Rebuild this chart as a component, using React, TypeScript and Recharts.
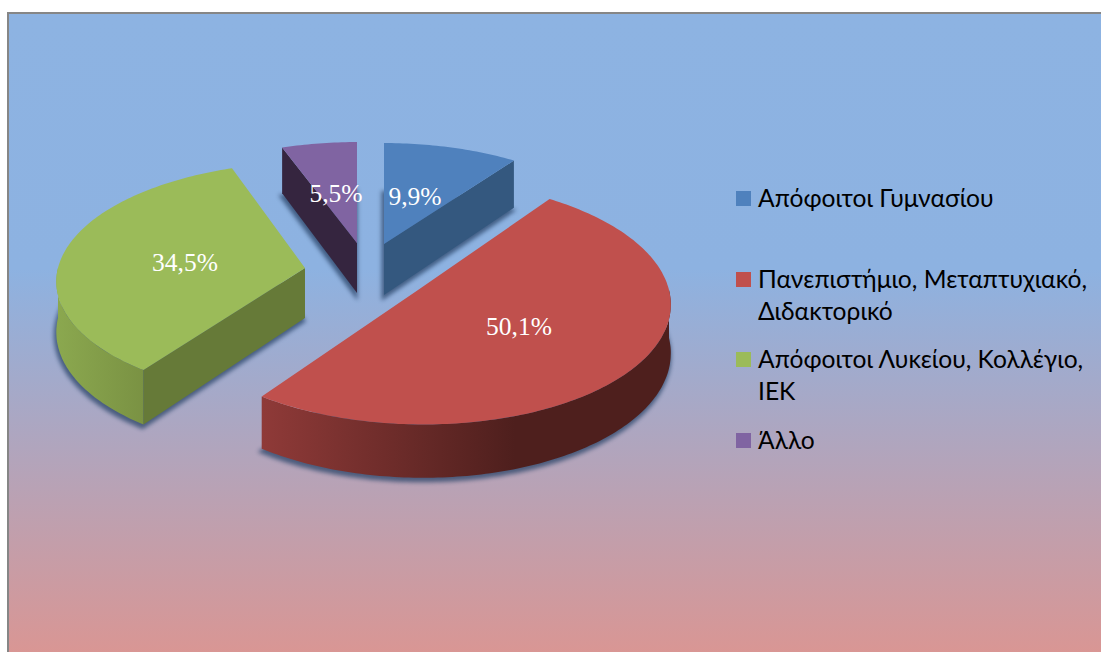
import React from "react";
import { PieChart, Pie, Legend } from "recharts";

const categories = [
  "Απόφοιτοι Γυμνασίου",
  "Πανεπιστήμιο, Μεταπτυχιακό, Διδακτορικό",
  "Απόφοιτοι Λυκείου, Κολλέγιο, ΙΕΚ",
  "Άλλο",
];
const shares = [9.9, 50.1, 34.5, 5.5];

const faceColors = ["#4F81BD", "#C0504D", "#9BBB59", "#8064A2"];
const cutColors = ["#34587F", "#4E1F1D", "#667A38", "#35253F"];
const wallFrom = ["#34587F", "#8F3A38", "#8BA84F", "#35253F"];
const wallTo = ["#34587F", "#4E1F1D", "#7A9243", "#35253F"];
const wallStop = ["100%", "62%", "100%", "100%"];

const PIE_CX = 400;
const PIE_CY = 270;
const PERSPECTIVE = 0.1;
// explosion offset from the pie centre, ellipse radii, skew and extrusion depth of every slice
const sliceDx = [-16, 18, -95, -43];
const sliceDy = [-26, 20, -2, -27];
const sliceRx = [241, 251, 247, 242];
const sliceRy = [111, 121, 116, 111];
const sliceSkew = [0, 0.04, -0.035, 0];
const sliceDepth = [51, 48, 50, 50];
const labelDx = [31, 101, -120, -21];
const labelDy = [-48, 36, -6, -50];
const legendTops = [0, 81, 161, 242];

const rad = (d: number) => (d * Math.PI) / 180;

function point(i: number, cx: number, cy: number, a: number, lift: boolean) {
  const w = 1 + PERSPECTIVE * Math.cos(rad(a));
  const dy = -(sliceRy[i] * Math.cos(rad(a))) / w;
  const x = cx + sliceDx[i] + (sliceRx[i] * Math.sin(rad(a))) / w + sliceSkew[i] * dy;
  const y = cy + sliceDy[i] + dy + (lift ? sliceDepth[i] / w : 0);
  return [x, y];
}

function arc(i: number, cx: number, cy: number, a0: number, a1: number, lift: boolean) {
  const pts: number[][] = [];
  const n = Math.max(2, Math.ceil(Math.abs(a1 - a0)));
  for (let k = 0; k <= n; k++) pts.push(point(i, cx, cy, a0 + ((a1 - a0) * k) / n, lift));
  return pts;
}

const toPath = (pts: number[][]) =>
  "M" + pts.map((p) => `${p[0].toFixed(1)},${p[1].toFixed(1)}`).join("L") + "Z";

function Slice3D(props: any) {
  const { cx, cy, startAngle, endAngle, index } = props;
  const i: number = index;
  const a0 = 90 - startAngle;
  const a1 = 90 - endAngle;
  const ax = cx + sliceDx[i];
  const ay = cy + sliceDy[i];
  const apex = [ax, ay];
  const apexLow = [ax, ay + sliceDepth[i]];
  const top = [apex, ...arc(i, cx, cy, a0, a1, false)];
  const bottom = [apexLow, ...arc(i, cx, cy, a0, a1, true)];
  const cuts: number[][][] = [];
  const addCut = (a: number) =>
    cuts.push([apex, point(i, cx, cy, a, false), point(i, cx, cy, a, true), apexLow]);
  if (Math.sin(rad(a1)) > 0.01) addCut(a1);
  if (-Math.sin(rad(a0)) > 0.01) addCut(a0);
  const w0 = Math.max(a0, 90);
  const w1 = Math.min(a1, 270);
  const wall =
    w1 > w0 ? [...arc(i, cx, cy, w0, w1, false), ...arc(i, cx, cy, w1, w0, true)] : null;
  return (
    <g>
      <defs>
        <linearGradient id={`wall-${i}`} x1="0" y1="0" x2="1" y2="0">
          <stop offset="0%" stopColor={wallFrom[i]} />
          <stop offset={wallStop[i]} stopColor={wallTo[i]} />
          <stop offset="100%" stopColor={wallTo[i]} />
        </linearGradient>
      </defs>
      <path
        d={toPath(bottom)}
        transform="translate(-1,3)"
        fill="#2A4468"
        stroke="#2A4468"
        strokeWidth={3}
        opacity={0.75}
        style={{ filter: "blur(2px)" }}
      />
      {wall && <path d={toPath(wall)} fill={`url(#wall-${i})`} />}
      {cuts.map((c, k) => (
        <path key={k} d={toPath(c)} fill={cutColors[i]} />
      ))}
      <path d={toPath(top)} fill={faceColors[i]} />
    </g>
  );
}

function SliceLabel(props: any) {
  const { cx, cy, index } = props;
  return (
    <text
      x={cx + sliceDx[index] + labelDx[index]}
      y={cy + sliceDy[index] + labelDy[index]}
      textAnchor="middle"
      dominantBaseline="central"
      fill="#FFFFFF"
      fontFamily="'Liberation Serif', serif"
      fontSize={25.5}
    >
      {shares[index].toFixed(1).replace(".", ",")}%
    </text>
  );
}

function LegendBox(props: any) {
  const payload: any[] = props.payload || [];
  return (
    <div style={{ position: "relative", width: 365, height: 290 }}>
      {payload.map((entry, i) => (
        <div key={i} style={{ position: "absolute", left: 0, top: legendTops[i], width: 365, height: 70 }}>
          <span
            style={{
              position: "absolute",
              left: 0,
              top: 0,
              width: 15,
              height: 15,
              background: faceColors[i],
            }}
          />
          <span
            style={{
              position: "absolute",
              left: 22,
              top: -9,
              width: 340,
              fontFamily: "Lato, 'Noto Sans', sans-serif",
              fontSize: 24.6,
              lineHeight: "32px",
              color: "#000000",
            }}
          >
            {entry.value}
          </span>
        </div>
      ))}
    </div>
  );
}

const tableData = categories.map((name, i) => ({ name, value: shares[i] }));

export default function App() {
  return (
    <div style={{ position: "absolute", left: 0, top: 0, width: 1101, height: 652, overflow: "hidden", background: "#FFFFFF" }}>
      <div
        style={{
          position: "absolute",
          left: 7,
          top: 12,
          width: 1094,
          height: 640,
          boxSizing: "border-box",
          borderLeft: "2px solid #868686",
          borderTop: "2px solid #868686",
          background: "linear-gradient(180deg, #8DB3E2 0%, #8DB2E1 40%, #D99694 100%)",
        }}
      />
      <div style={{ position: "absolute", left: 0, top: 0 }}>
        <PieChart width={1101} height={652} margin={{ top: 0, right: 0, bottom: 0, left: 0 }}>
          <Pie
            data={tableData}
            dataKey="value"
            nameKey="name"
            cx={PIE_CX}
            cy={PIE_CY}
            outerRadius={240}
            startAngle={90}
            endAngle={-270}
            stroke="none"
            isAnimationActive={false}
            shape={Slice3D}
            label={SliceLabel}
            labelLine={false}
          />
          <Legend
            layout="vertical"
            align="right"
            verticalAlign="top"
            itemSorter={null}
            content={LegendBox}
            wrapperStyle={{ left: 736, top: 191, width: 365, height: 290, right: "auto" }}
          />
        </PieChart>
      </div>
    </div>
  );
}
